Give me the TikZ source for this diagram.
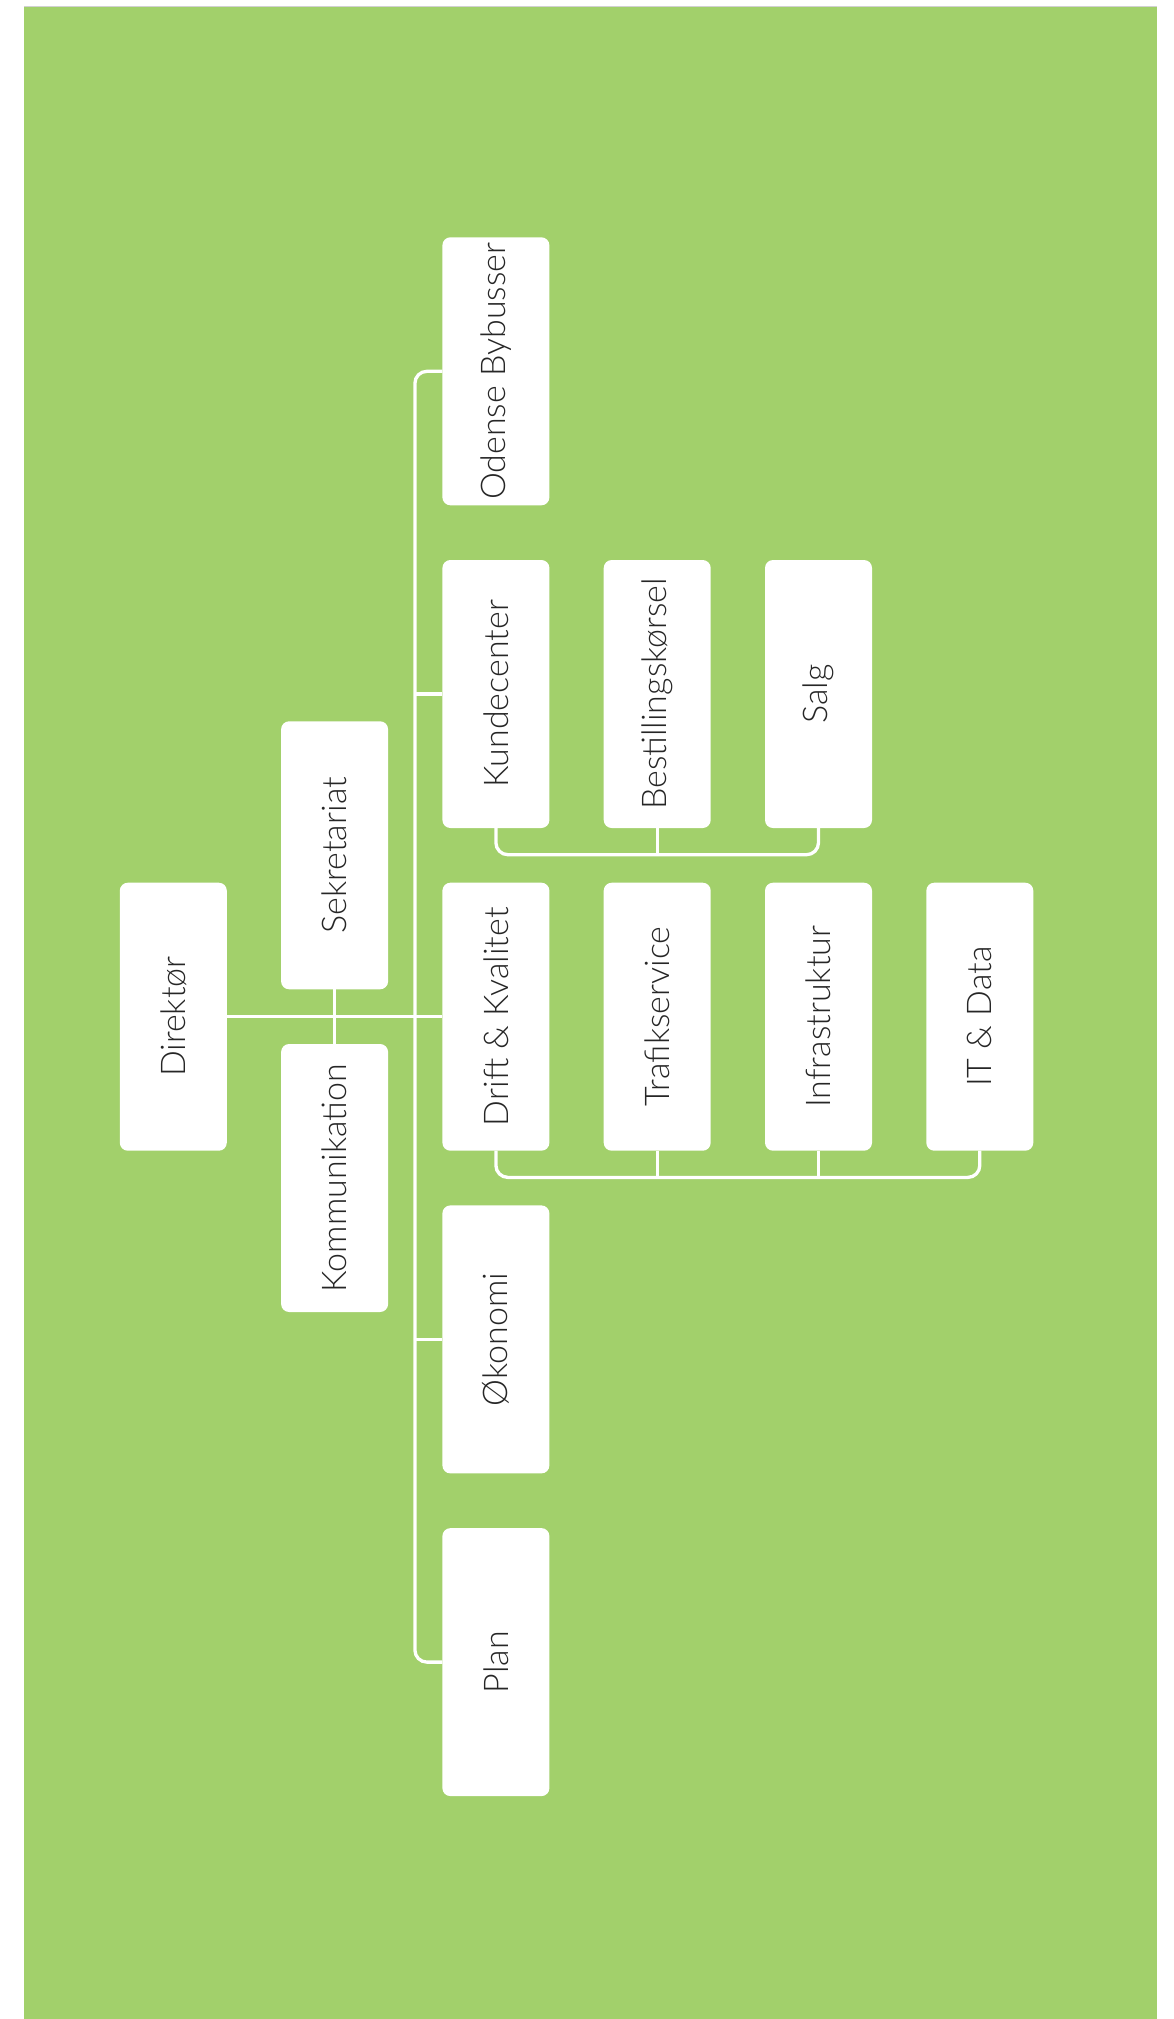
\documentclass[tikz,border=0pt]{standalone}
\usepackage{fontspec}
\setmainfont{Lato}[UprightFont=* Light]
\usepackage{graphicx}
\definecolor{bggreen}{HTML}{A2D06B}
\definecolor{txt}{HTML}{262626}
\begin{document}
\begin{tikzpicture}[x=0.5pt,y=-0.5pt,
  box/.style={rectangle, fill=white, rounded corners=4pt, minimum width=53.5pt, minimum height=134pt, inner sep=0pt, outer sep=0pt, text=txt, font=\fontsize{17}{20}\selectfont},
  conn/.style={draw=white, line width=1.65pt},
  elbow/.style={conn, rounded corners=6pt}]
\useasboundingbox (0,0) rectangle (1173,2019);
\fill[bggreen] (24,7) rectangle (1157,2019);
\draw[black!18, line width=0.6pt] (24,6.3) -- (1157,6.3);
% nodes
\node[box] (dir)    at (173.3,1016.7) {\rotatebox{90}{Direktør}};
\node[box] (sek)    at (334.6,855.3)  {\rotatebox{90}{Sekretariat}};
\node[box] (kom)    at (334.6,1178.0) {\rotatebox{90}{Kommunikation}};
\node[box] (odense) at (495.9,371.3)  {\rotatebox{90}{Odense Bybusser}};
\node[box] (kunde)  at (495.9,694.0)  {\rotatebox{90}{Kundecenter}};
\node[box] (best)   at (657.2,694.0)  {\rotatebox{90}{Bestillingskørsel}};
\node[box] (salg)   at (818.5,694.0)  {\rotatebox{90}{Salg}};
\node[box] (drift)  at (495.9,1016.7) {\rotatebox{90}{Drift \& Kvalitet}};
\node[box] (trafik) at (657.2,1016.7) {\rotatebox{90}{Trafikservice}};
\node[box] (infra)  at (818.5,1016.7) {\rotatebox{90}{Infrastruktur}};
\node[box] (it)     at (979.8,1016.7) {\rotatebox{90}{IT \& Data}};
\node[box] (okon)   at (495.9,1339.4) {\rotatebox{90}{Økonomi}};
\node[box] (plan)   at (495.9,1662.1) {\rotatebox{90}{Plan}};
% connectors
\draw[conn] (dir.east) -- (drift.west);
\draw[conn] (sek.south) -- (kom.north);
\draw[elbow] (odense.west) -- ++(-27.5,0) |- (plan.west);
\draw[conn] (kunde.west) -- ++(-27.5,0);
\draw[conn] (okon.west) -- ++(-27.5,0);
\draw[elbow] (kunde.south) -- ++(0,26.7) -| (salg.south);
\draw[conn] (best.south) -- ++(0,26.7);
\draw[elbow] (drift.south) -- ++(0,26.7) -| (it.south);
\draw[conn] (trafik.south) -- ++(0,26.7);
\draw[conn] (infra.south) -- ++(0,26.7);
\end{tikzpicture}
\end{document}
